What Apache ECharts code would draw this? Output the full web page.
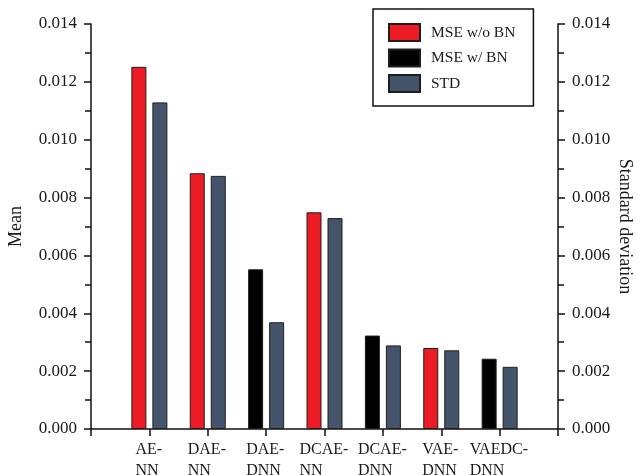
<!DOCTYPE html>
<html>
<head>
<meta charset="utf-8">
<script src="https://cdn.jsdelivr.net/npm/echarts@6/dist/echarts.min.js"></script>
<style>
html,body{margin:0;padding:0;background:#fff;}
#chart{width:637px;height:475px;}
</style>
</head>
<body>
<div id="chart"></div>
<script>
// ---- data ----
var categories = ['AE-NN', 'DAE-NN', 'DAE-DNN', 'DCAE-NN', 'DCAE-DNN', 'VAE-DNN', 'VAEDC-DNN'];
var mseWithoutBN = [0.01252, 0.00884, null, 0.00749, null, 0.00280, null];
var mseWithBN    = [null, null, 0.00552, null, 0.00323, null, 0.00243];
var stdValues    = [0.01129, 0.00875, 0.00369, 0.00729, 0.00289, 0.00272, 0.00215];
var yTicks = [0, 0.002, 0.004, 0.006, 0.008, 0.010, 0.012, 0.014];

var FONT = 'Liberation Serif';
var TXT = '#1a1a1a';

// padded category axis: empty slots at both ends
var axisCats = [''].concat(categories).concat(['']);
function pad(arr){ return [null].concat(arr).concat([null]); }

// measure label lines so wrapped lines are left aligned inside a centered block
var ctx = document.createElement('canvas').getContext('2d');
ctx.font = '16px "' + FONT + '"';
var rich = {};
axisCats.forEach(function(c, i){
  if (!c) return;
  var lines = c.replace('-', '-\n').split('\n');
  var w = 0;
  lines.forEach(function(l){ w = Math.max(w, ctx.measureText(l).width); });
  rich['c' + i] = {width: Math.ceil(w) + 1, align: 'left', fontFamily: FONT, fontSize: 16, color: TXT, lineHeight: 21};
});

var chart = echarts.init(document.getElementById('chart'));
var yAxisCommon = {
  type: 'value',
  min: yTicks[0], max: yTicks[yTicks.length - 1], interval: 0.002,
  splitLine: {show: false},
  axisLine: {show: true, lineStyle: {color: '#111', width: 1.5}},
  axisTick: {show: true, inside: false, length: 7, lineStyle: {color: '#111', width: 1.5}},
  minorTick: {show: true, splitNumber: 2, length: 6, lineStyle: {color: '#111', width: 1.5}},
  axisLabel: {
    margin: 14, fontFamily: FONT, fontSize: 17, color: TXT,
    formatter: function(v){ return v.toFixed(3); }
  },
  nameLocation: 'middle',
  nameMoveOverlap: false,
  nameTextStyle: {fontFamily: FONT, fontSize: 18, color: TXT}
};

var barBorder = {borderColor: '#1e1e1e', borderWidth: 1};

chart.setOption({
  animation: false,
  backgroundColor: '#fff',
  grid: {left: 91, right: 79, top: 24, bottom: 46, containLabel: false, outerBoundsMode: 'none'},
  legend: {
    left: 373, top: 9,
    orient: 'vertical',
    selectedMode: false,
    itemWidth: 31, itemHeight: 17, itemGap: 6.5,
    padding: [14, 18, 13, 15],
    borderColor: '#111', borderWidth: 1.5,
    icon: 'rect',
    textStyle: {fontFamily: FONT, fontSize: 15.5, color: TXT, padding: [0, 0, 0, 6]},
    data: ['MSE w/o BN', 'MSE w/ BN', 'STD']
  },
  xAxis: {
    type: 'category',
    data: axisCats,
    boundaryGap: false,
    axisLine: {show: true, lineStyle: {color: '#111', width: 1.5}},
    axisTick: {show: true, interval: 0, length: 7, lineStyle: {color: '#111', width: 1.5}},
    axisLabel: {
      interval: 0, margin: 10,
      rich: rich,
      formatter: function(v, i){
        if (!v) return '';
        return v.replace('-', '-\n').split('\n').map(function(l){ return '{c' + i + '|' + l + '}'; }).join('\n');
      }
    },
    splitLine: {show: false}
  },
  yAxis: [
    Object.assign({}, yAxisCommon, {position: 'left', name: 'Mean', nameRotate: 90, nameGap: 66}),
    Object.assign({}, yAxisCommon, {position: 'right', name: 'Standard deviation', nameRotate: -90, nameGap: 58})
  ],
  series: [
    {name: 'MSE w/o BN', type: 'bar', stack: 'mse', yAxisIndex: 0, data: pad(mseWithoutBN),
     barWidth: 15, barGap: '40%', itemStyle: Object.assign({color: '#ED1C24'}, barBorder)},
    {name: 'MSE w/ BN', type: 'bar', stack: 'mse', yAxisIndex: 0, data: pad(mseWithBN),
     barWidth: 15, barGap: '40%', itemStyle: Object.assign({color: '#000000'}, barBorder)},
    {name: 'STD', type: 'bar', yAxisIndex: 1, data: pad(stdValues),
     barWidth: 15, barGap: '40%', itemStyle: Object.assign({color: '#44546A'}, barBorder)}
  ]
});
</script>
</body>
</html>
